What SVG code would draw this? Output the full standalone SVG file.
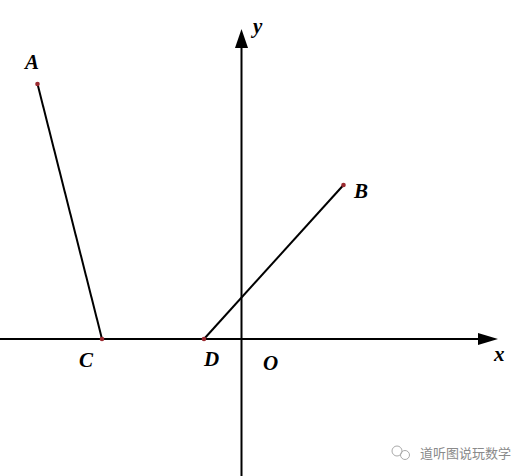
<svg xmlns="http://www.w3.org/2000/svg" width="527" height="476" viewBox="0 0 527 476">
<style>
.ax{stroke:#000;stroke-width:2;fill:none}
.seg{stroke:#000;stroke-width:2;fill:none}
.pt{fill:#9b2a30}
.lbl{font-family:"Liberation Serif",serif;font-style:italic;font-weight:bold;font-size:21px;fill:#000}
.wm{font-family:"Noto Sans CJK SC",sans-serif;font-size:13px;fill:#8a8a8a}
</style>
<rect width="527" height="476" fill="#fff"/>
<g id="connectors">
<line class="ax" x1="0" y1="339" x2="480" y2="339"/>
<polygon points="478,333 498,339 478,345" fill="#000"/>
<line class="ax" x1="241.5" y1="476" x2="241.5" y2="46"/>
<polygon points="235,48 241.5,29 248,48" fill="#000"/>
<line class="seg" x1="37.5" y1="84" x2="102" y2="339"/>
<line class="seg" x1="204" y1="339" x2="343.5" y2="185"/>
</g>
<g id="A"><circle class="pt" cx="37.5" cy="84" r="2.3"/><text class="lbl" x="25" y="69">A</text></g>
<g id="B"><circle class="pt" cx="343.5" cy="185" r="2.3"/><text class="lbl" x="354" y="198">B</text></g>
<g id="C"><circle class="pt" cx="102" cy="339" r="2.3"/><text class="lbl" x="79" y="367">C</text></g>
<g id="D"><circle class="pt" cx="204" cy="339" r="2.3"/><text class="lbl" x="204" y="366">D</text></g>
<g id="O"><text class="lbl" x="263" y="370">O</text></g>
<g id="xlabel"><text class="lbl" x="494" y="361">x</text></g>
<g id="ylabel"><text class="lbl" x="253" y="33">y</text></g>
<g id="watermark">
<circle cx="397" cy="451" r="5" fill="none" stroke="#aaa" stroke-width="1"/>
<circle cx="405" cy="455" r="4.5" fill="none" stroke="#aaa" stroke-width="1"/>
<text class="wm" x="420" y="458">道听图说玩数学</text>
</g>
</svg>
